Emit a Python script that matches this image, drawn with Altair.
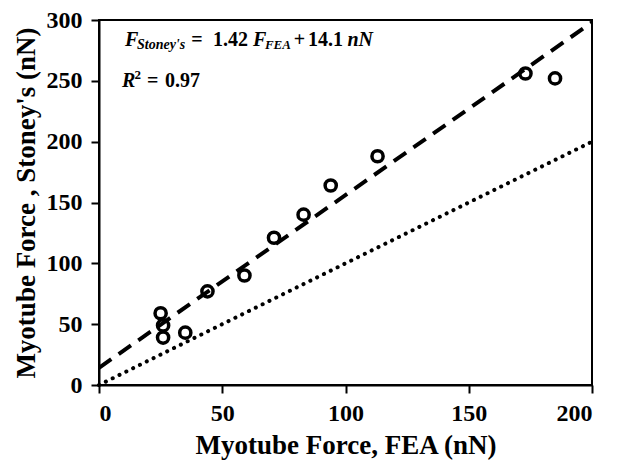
import altair as alt
import pandas as pd

# Data
fea = [25, 26, 26, 35, 44, 59, 71, 83, 94, 113, 173, 185]
stoney = [59, 49, 39, 43, 77, 90, 121, 140, 164, 188, 256, 252]

# fitted line end points (F_Stoney = 1.42 F_FEA + 14.1) and 1:1 line
fit_x = [0, 200]
fit_y = [14.1, 298.1]
one_x = [0, 200]
one_y = [0, 200]

FONT = "Liberation Serif"

pts = pd.DataFrame({"fea": fea, "stoney": stoney})
fit = pd.DataFrame({"fea": fit_x, "stoney": fit_y})
one = pd.DataFrame({"fea": one_x, "stoney": one_y})

xs = alt.Scale(domain=[0, 200], nice=False, zero=False)
ys = alt.Scale(domain=[0, 300], nice=False, zero=False)

xax = alt.Axis(values=[0, 50, 100, 150, 200], title="Myotube Force, FEA (nN)",
               titleY=68, titleBaseline="alphabetic", labelPadding=8)
yax = alt.Axis(values=[0, 50, 100, 150, 200, 250, 300], title="Myotube Force , Stoney's  (nN)",
               titleX=-65, titleBaseline="alphabetic", labelPadding=9)

base_x = alt.X("fea:Q", scale=xs, axis=xax)
base_y = alt.Y("stoney:Q", scale=ys, axis=yax)

points = alt.Chart(pts).mark_point(shape="circle", filled=False, color="black",
                                   size=125, strokeWidth=3.5, opacity=1).encode(x=base_x, y=base_y)
fit_line = alt.Chart(fit).mark_line(color="black", strokeWidth=4, strokeDash=[15, 9]).encode(
    x=alt.X("fea:Q", scale=xs), y=alt.Y("stoney:Q", scale=ys))
one_line = alt.Chart(one).mark_line(color="black", strokeWidth=4, strokeDash=[0.1, 7.5],
                                    strokeCap="round").encode(
    x=alt.X("fea:Q", scale=xs), y=alt.Y("stoney:Q", scale=ys))

# annotation pieces: text, x (data), y (data), size, italic, dy
eq_y = 278.6
r_y = 244.6
pieces = [
    ("F", 10.55, eq_y, 20, True, 0),
    ("Stoney's", 15.4, eq_y, 14, True, 3),
    ("=", 37.4, eq_y, 20, False, 0),
    ("1.42", 46.25, eq_y, 20, False, 0),
    ("F", 62.5, eq_y, 20, True, 0),
    ("FEA", 67.3, eq_y, 13, True, 3),
    ("+", 79.0, eq_y, 20, False, 0),
    ("14.1", 84.8, eq_y, 20, False, 0),
    ("nN", 100.8, eq_y, 20, True, 0),
    ("R", 9.33, r_y, 20, True, 0),
    ("2", 14.4, r_y, 13, False, -8),
    ("=", 19.5, r_y, 20, False, 0),
    ("0.97", 26.8, r_y, 20, False, 0),
]
layers = [one_line, fit_line, points]
for t, x, y, s, it, dy in pieces:
    d = pd.DataFrame({"fea": [x], "stoney": [y], "t": [t]})
    kw = dict(align="left", baseline="alphabetic", font=FONT, fontSize=s,
              fontWeight="bold", color="black", dy=dy)
    if it:
        kw["fontStyle"] = "italic"
    layers.append(alt.Chart(d).mark_text(**kw).encode(
        x=alt.X("fea:Q", scale=xs), y=alt.Y("stoney:Q", scale=ys), text="t:N"))

chart = alt.layer(*layers).properties(
    width=493, height=365,
    background="white",
    autosize=alt.AutoSizeParams(type="none"),
    padding={"left": 91, "top": 12, "right": 24, "bottom": 76},
).configure_view(stroke="black", strokeWidth=2).configure_axis(
    grid=False, domainColor="black", domainWidth=2, tickColor="black", tickWidth=2,
    tickSize=8, labelFont=FONT, labelFontWeight="bold", labelFontSize=24,
    labelColor="black", titleFont=FONT, titleFontWeight="bold", titleFontSize=27,
    titleColor="black",
)

chart.save("out.html", embed_options={"renderer": "svg", "actions": False})
